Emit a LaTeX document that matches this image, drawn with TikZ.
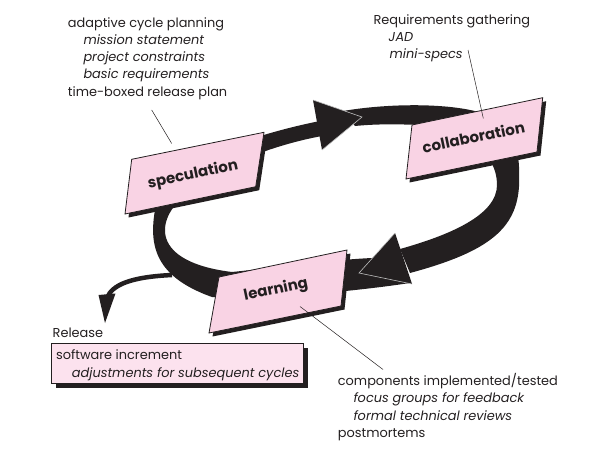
\documentclass[tikz,border=0pt]{standalone}
\usepackage{fontspec}
\setmainfont{Poppins}
\definecolor{ink}{HTML}{231F20}
\definecolor{pinkbox}{HTML}{F9D3E4}
\definecolor{pinkrel}{HTML}{FCE2EE}
\begin{document}
\begin{tikzpicture}[x=1pt,y=-1pt,
  txt/.style={anchor=base west, inner sep=0pt, text=ink, font=\fontsize{12.9}{15}\selectfont},
  itx/.style={anchor=base west, inner sep=0pt, text=ink, font=\fontsize{12.9}{15}\selectfont\itshape},
  lbl/.style={inner sep=0pt, text=ink, rotate=11.8, font=\fontsize{15}{17}\selectfont\bfseries},
  band/.style={fill=ink},
  tipedge/.style={draw=black!25, line width=0.6pt},
  boxfill/.style={fill=pinkbox, draw=ink, line width=0.8pt},
  shadow/.style={fill=ink},
  pointer/.style={draw=ink, line width=0.5pt}]
\path[use as bounding box] (0,0) rectangle (616,460);

% release arrow (under band)
\coordinate (relstart) at (172,275);
\coordinate (relend) at (107,298);
\draw[ink, line width=4.5pt] (relstart) .. controls (130,277) and (112,285) .. (relend);
\fill[ink] (105,323) -- (98.5,295) -- (115.5,293.5) -- cycle;

% band A: speculation -> arrow 1
\fill[band] (248,140) .. controls (275,131) and (300,125) .. (320,121) -- (322,136) .. controls (300,140) and (275,147) .. (252,156) -- cycle;
% band B: arrow 1 -> around collaboration -> arrow 2
\fill[band] (343,111) .. controls (390,103) and (450,103) .. (482,113) .. controls (510,125) and (520,150) .. (519,172)
  .. controls (522,225) and (495,250) .. (410,273) -- (400,249) .. controls (450,235) and (497,215) .. (497,185)
  .. controls (497,150) and (460,128) .. (420,125) .. controls (395,124) and (375,124) .. (355,126) -- cycle;
% band D: arrow 2 -> behind learning -> up to speculation
\fill[band] (410,283) .. controls (350,292) and (260,300) .. (212,297) .. controls (150,275) and (148,240) .. (157,200)
  -- (185,195) .. controls (155,220) and (150,262) .. (232,272) .. controls (290,266) and (330,260) .. (372,258) -- cycle;

% arrow heads
\fill[ink] (362,117) -- (313,100) -- (322,150) -- cycle;
\draw[tipedge] (313,100) -- (362,117) -- (322,150);
\fill[ink] (359,273) -- (395,233) -- (412,284) -- cycle;
\draw[tipedge] (395,233) -- (359,273) -- (412,284);

% speculation box
\fill[shadow] (135.2,162.8) -- (267.5,135.8) -- (259.2,190.2) -- (128.5,217.5) -- cycle;
\draw[boxfill] (131.7,159.3) -- (264,132.3) -- (255.7,186.7) -- (125,214) -- cycle;
\node[lbl] (spec) at (193,175) {speculation};
\coordinate (specpin) at (171.7,143.5);

% collaboration box
\fill[shadow] (415.5,128.5) -- (546.2,101.2) -- (540.5,155.5) -- (409.5,182.5) -- cycle;
\draw[boxfill] (412,125) -- (542.7,97.7) -- (537,152) -- (406,179) -- cycle;
\node[lbl] (collab) at (473.5,137) {collaboration};
\coordinate (collabpin) at (483.3,118.3);

% learning box
\fill[shadow] (222.5,280.5) -- (350.5,253.5) -- (344.5,309.5) -- (212.5,336.5) -- cycle;
\draw[boxfill] (219,277) -- (347,250) -- (341,306) -- (209,333) -- cycle;
\node[lbl] (learn) at (276,290) {learning};
\coordinate (learnpin) at (300,306.5);

% release box
\fill[shadow] (56,347.5) rectangle (307.5,387.5);
\draw[fill=pinkrel, draw=ink, line width=0.8pt] (51.7,343.3) rectangle (303.3,383.3);

% texts
\node[txt] (s1) at (67.7,28) {adaptive cycle planning};
\node[itx] (s2) at (83.3,45) {mission statement};
\node[itx] (s3) at (83.3,62) {project constraints};
\node[itx] (s4) at (83.3,79) {basic requirements};
\node[txt] (s5) at (67.7,96) {time-boxed release plan};
\coordinate (specnote) at (151.7,110);

\node[txt] (c1) at (373.3,25) {Requirements gathering};
\node[itx] (c2) at (388.5,42) {JAD};
\node[itx] (c3) at (389.5,59) {mini-specs};
\coordinate (collabnote) at (468,50);

\node[txt] (l1) at (337.7,385) {components implemented/tested};
\node[itx] (l2) at (353.3,402.5) {focus groups for feedback};
\node[itx] (l3) at (353.3,420) {formal technical reviews};
\node[txt] (l4) at (337.7,437.5) {postmortems};
\coordinate (learnnote) at (383,369.5);

\node[txt] (r0) at (52.5,337.5) {Release};
\node[txt] (r1) at (56,359.3) {software increment};
\node[itx] (r2) at (71.7,377) {adjustments for subsequent cycles};

% pointer lines
\draw[pointer] (specnote) -- (specpin);
\draw[pointer] (collabnote) -- (collabpin);
\draw[pointer] (learnpin) -- (learnnote);
\end{tikzpicture}
\end{document}
